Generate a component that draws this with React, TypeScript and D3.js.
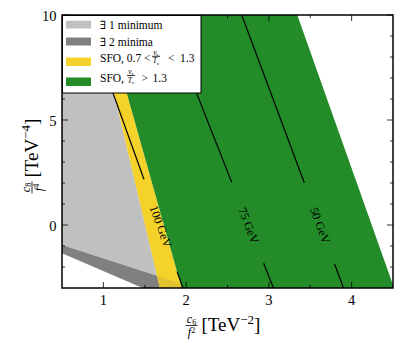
import React from 'react';
import * as d3 from 'd3';

const xDomain: [number, number] = [0.5, 4.5];
const yDomain: [number, number] = [-3, 10];
const xMajorTicks = [1, 2, 3, 4];
const xMinorTicks = [1.5, 2.5, 3.5];
const yMajorTicks = [0, 5, 10];
const yMinorTicks = [-2, -1, 1, 2, 3, 4, 6, 7, 8, 9];

// region polygons [x, y]
const lightGrayRegion = [[0.5, 10], [0.906, 10], [1.65, -2.42], [0.5, -0.95]];
const darkGrayRegion = [[0.5, -0.95], [1.65, -2.42], [1.684, -3], [1.475, -3], [0.5, -1.35]];
const yellowRegion = [[0.906, 10], [1.016, 10], [1.946, -3], [1.684, -3]];
const overlapRegion = [[1.65, -2.42], [1.93, -2.78], [1.946, -3], [1.684, -3]];
const greenRegion = [[1.016, 10], [3.343, 10], [4.5, -2.857], [4.5, -3], [1.946, -3]];

// contour lines of vc (GeV)
const contourLabels = ['100 GeV', '75 GeV', '50 GeV'];
const contour100 = [[0.778, 10], [1.962, -3]];
const contour75 = [[1.754, 10], [3.055, -3]];
const contour50 = [[2.672, 10], [3.902, -3]];
const contourGapTop = [2.18, 2.03, 2.01];
const contourGapBottom = [-2.22, -1.82, -1.86];
const contourLabelY = [-0.07, -0.02, -0.02];

const legendLabels = ['∃ 1 minimum', '∃ 2 minima', 'SFO, 0.7', 'SFO,'];

const W = 402, H = 349;
const L = 62, R = 393, T = 15, B = 288;
const FONT = "'Liberation Serif', 'DejaVu Serif', serif";

const C_LIGHT = '#c0c0c0';
const C_DARK = '#808080';
const C_YELLOW = '#f4d22a';
const C_OVERLAP = '#e3c32e';
const C_GREEN = '#238b28';

function xAtY(poly: number[][], y: number): number {
  for (let i = 0; i < poly.length - 1; i++) {
    const [x0, y0] = poly[i];
    const [x1, y1] = poly[i + 1];
    if ((y <= y0 && y >= y1) || (y >= y0 && y <= y1)) {
      const t = (y - y0) / (y1 - y0);
      return x0 + t * (x1 - x0);
    }
  }
  return poly[poly.length - 1][0];
}

function Frac({ cx, bar, w, size, num, den, numDy = -1.3, denDy = 7 }: any) {
  return (
    <g>
      <text x={cx} y={bar + numDy} textAnchor="middle" fontSize={size} fontFamily={FONT}>{num}</text>
      <line x1={cx - w / 2} x2={cx + w / 2} y1={bar} y2={bar} stroke="#000" strokeWidth={0.8} />
      <text x={cx} y={bar + denDy} textAnchor="middle" fontSize={size} fontFamily={FONT}>{den}</text>
    </g>
  );
}

const vcNum = <><tspan fontStyle="italic">v</tspan><tspan fontSize={5} dy={1.2}>c</tspan></>;
const tcDen = <><tspan fontStyle="italic">T</tspan><tspan fontSize={5} dy={1.2}>c</tspan></>;

export default function App() {
  const x = d3.scaleLinear().domain(xDomain).range([L, R]);
  const y = d3.scaleLinear().domain(yDomain).range([B, T]);
  const line = d3.line<number[]>().x(d => x(d[0])).y(d => y(d[1]));
  const poly = (p: number[][]) => line(p) + 'Z';

  const contours = [contour100, contour75, contour50];

  return (
    <svg width={W} height={H} style={{ position: 'absolute', left: 0, top: 0, background: '#fff' }}>
      <defs>
        <clipPath id="plot"><rect x={L} y={T} width={R - L} height={B - T} /></clipPath>
      </defs>
      <rect x={0} y={0} width={W} height={H} fill="#fff" />
      <g clipPath="url(#plot)">
        <path d={poly(lightGrayRegion)} fill={C_LIGHT} />
        <path d={poly(darkGrayRegion)} fill={C_DARK} />
        <path d={poly(yellowRegion)} fill={C_YELLOW} />
        <path d={poly(overlapRegion)} fill={C_OVERLAP} />
        <path d={poly(greenRegion)} fill={C_GREEN} />
        {contours.map((c, i) => {
          const gt = contourGapTop[i], gb = contourGapBottom[i];
          const upper = [c[0], [xAtY(c, gt), gt]];
          const lower = [[xAtY(c, gb), gb], c[c.length - 1]];
          const ly = contourLabelY[i];
          const lx = xAtY(c, ly);
          const a = Math.atan2(y(c[c.length - 1][1]) - y(c[0][1]), x(c[c.length - 1][0]) - x(c[0][0])) * 180 / Math.PI;
          return (
            <g key={i}>
              <path d={line(upper) || ''} stroke="#000" strokeWidth={1.2} fill="none" />
              <path d={line(lower) || ''} stroke="#000" strokeWidth={1.2} fill="none" />
              <text transform={`translate(${x(lx)},${y(ly)}) rotate(${a})`} textAnchor="middle" dy="0.35em"
                fontSize={12} fontFamily={FONT} fill="#000">{contourLabels[i]}</text>
            </g>
          );
        })}
      </g>

      {/* ticks */}
      <g stroke="#000" strokeWidth={0.8}>
        {xMajorTicks.map(t => (
          <g key={'xm' + t}>
            <line x1={x(t)} x2={x(t)} y1={B} y2={B - 6} />
            <line x1={x(t)} x2={x(t)} y1={T} y2={T + 6} />
          </g>
        ))}
        {xMinorTicks.map(t => (
          <g key={'xn' + t}>
            <line x1={x(t)} x2={x(t)} y1={B} y2={B - 3} />
            <line x1={x(t)} x2={x(t)} y1={T} y2={T + 3} />
          </g>
        ))}
        {yMajorTicks.map(t => (
          <g key={'ym' + t}>
            <line x1={L} x2={L + 6} y1={y(t)} y2={y(t)} />
            <line x1={R} x2={R - 6} y1={y(t)} y2={y(t)} />
          </g>
        ))}
        {yMinorTicks.map(t => (
          <g key={'yn' + t}>
            <line x1={L} x2={L + 3} y1={y(t)} y2={y(t)} />
            <line x1={R} x2={R - 3} y1={y(t)} y2={y(t)} />
          </g>
        ))}
      </g>

      {/* legend */}
      <g fontFamily={FONT}>
        <rect x={62.5} y={15.5} width={138.5} height={77.5} fill="#fff" stroke="#000" strokeWidth={1} />
        <rect x={66} y={20.7} width={25} height={7.8} fill={C_LIGHT} />
        <rect x={66} y={37.5} width={25} height={8} fill={C_DARK} />
        <rect x={66} y={57.5} width={25} height={8.5} fill={C_YELLOW} />
        <rect x={66} y={77.5} width={25} height={8.5} fill={C_GREEN} />
        <text x={100} y={29} fontSize={11.5}>{legendLabels[0]}</text>
        <text x={100} y={45.7} fontSize={11.5}>{legendLabels[1]}</text>
        <text x={100} y={62.3} fontSize={11.5}>{legendLabels[2]}</text>
        <text x={144} y={62.3} fontSize={11.5}>{'<'}</text>
        <Frac cx={156} bar={56.3} w={8} size={7.5} num={vcNum} den={tcDen} numDy={-1.6} denDy={7} />
        <text x={168} y={62.3} fontSize={11.5}>{'<'}</text>
        <text x={180} y={62.3} fontSize={11.5}>{'1.3'}</text>
        <text x={100} y={81.5} fontSize={11.5}>{legendLabels[3]}</text>
        <Frac cx={131} bar={75.5} w={8} size={7.5} num={vcNum} den={tcDen} numDy={-1.6} denDy={7} />
        <text x={141.5} y={81.5} fontSize={11.5}>{'>'}</text>
        <text x={152.5} y={81.5} fontSize={11.5}>{'1.3'}</text>
      </g>

      {/* frame */}
      <rect x={L} y={T} width={R - L} height={B - T} fill="none" stroke="#000" strokeWidth={1.5} />

      {/* tick labels */}
      <g fontFamily={FONT} fontSize={14.5} fill="#000">
        {xMajorTicks.map(t => (
          <text key={'xl' + t} x={x(t)} y={305} textAnchor="middle">{t}</text>
        ))}
        {yMajorTicks.map(t => (
          <text key={'yl' + t} x={56.5} y={y(t) + 1} dy="0.35em" textAnchor="end">{t}</text>
        ))}
      </g>

      {/* x label */}
      <g fontFamily={FONT}>
        <Frac cx={(L + R) / 2 - 36} bar={325.5} w={12} size={12}
          num={<><tspan fontStyle="italic">c</tspan><tspan fontSize={8} dy={1.5}>6</tspan></>}
          den={<><tspan fontStyle="italic">f</tspan><tspan fontSize={8} dy={-3.5}>2</tspan></>}
          numDy={-2.5} denDy={10.5} />
        <text x={(L + R) / 2 - 26} y={331} fontSize={19}>
          [TeV<tspan fontSize={13} dy={-7.5}>−2</tspan><tspan dy={7.5}>]</tspan>
        </text>
      </g>

      {/* y label */}
      <g fontFamily={FONT} transform={`translate(37.5,${(T + B) / 2}) rotate(-90)`}>
        <Frac cx={-36} bar={-5.5} w={12} size={12}
          num={<><tspan fontStyle="italic">c</tspan><tspan fontSize={8} dy={1.5}>8</tspan></>}
          den={<><tspan fontStyle="italic">f</tspan><tspan fontSize={8} dy={-3.5}>4</tspan></>}
          numDy={-2.5} denDy={10.5} />
        <text x={-26} y={0} fontSize={19}>
          [TeV<tspan fontSize={13} dy={-7.5}>−4</tspan><tspan dy={7.5}>]</tspan>
        </text>
      </g>
    </svg>
  );
}
